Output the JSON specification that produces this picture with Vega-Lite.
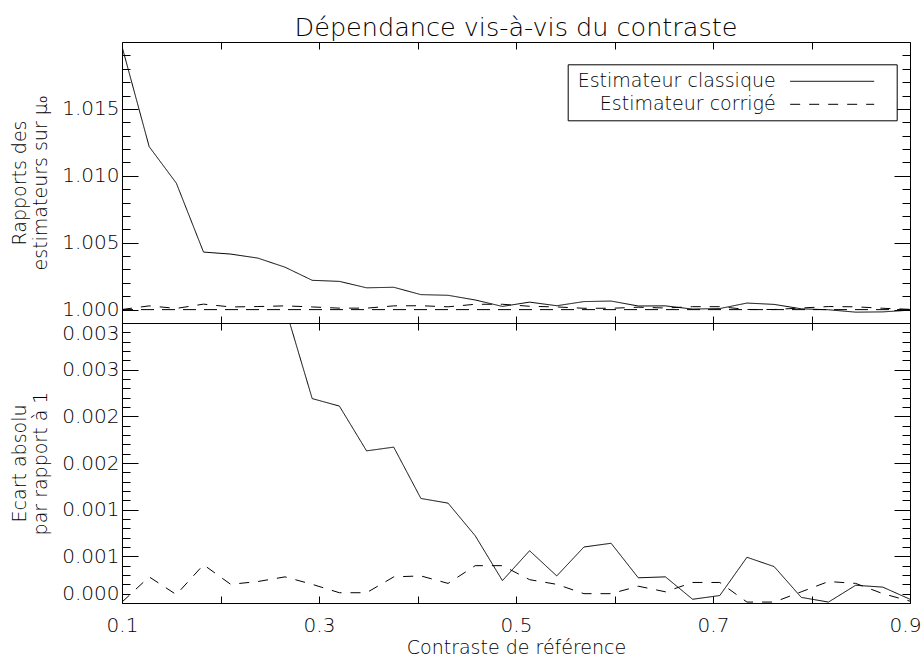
{
  "$schema": "https://vega.github.io/schema/vega-lite/v6.json",
  "autosize": {"type": "pad"},
  "padding": {"left": 10, "top": 15, "right": 0, "bottom": 0},
  "background": "white",
  "spacing": 0,
  "bounds": "flush",
  "config": {
    "font": "DejaVu Sans",
    "view": {"stroke": "black", "strokeWidth": 1},
    "axis": {
      "domain": false,
      "grid": false,
      "labelFlush": false,
      "tickColor": "black",
      "tickWidth": 1,
      "labelColor": "black",
      "labelFont": "DejaVu Sans",
      "labelFontWeight": 200,
      "labelFontSize": 20,
      "titleColor": "black",
      "titleFont": "DejaVu Sans",
      "titleFontWeight": 200,
      "titleFontSize": 19
    },
    "legend": {
      "labelFont": "DejaVu Sans",
      "labelFontWeight": 200,
      "labelFontSize": 19,
      "labelColor": "black",
      "labelLimit": 0
    }
  },
  "datasets": {
    "d": [
      {"x": 0.1, "serie": "Estimateur classique", "ratio": 1.01967, "ecart": 0.01967},
      {"x": 0.12759, "serie": "Estimateur classique", "ratio": 1.01218, "ecart": 0.01218},
      {"x": 0.15517, "serie": "Estimateur classique", "ratio": 1.00945, "ecart": 0.00945},
      {"x": 0.18276, "serie": "Estimateur classique", "ratio": 1.0043, "ecart": 0.0043},
      {"x": 0.21034, "serie": "Estimateur classique", "ratio": 1.00415, "ecart": 0.00415},
      {"x": 0.23793, "serie": "Estimateur classique", "ratio": 1.00385, "ecart": 0.00385},
      {"x": 0.26552, "serie": "Estimateur classique", "ratio": 1.00317, "ecart": 0.00317},
      {"x": 0.2931, "serie": "Estimateur classique", "ratio": 1.00219, "ecart": 0.00219},
      {"x": 0.32069, "serie": "Estimateur classique", "ratio": 1.00211, "ecart": 0.00211},
      {"x": 0.34828, "serie": "Estimateur classique", "ratio": 1.00163, "ecart": 0.00163},
      {"x": 0.37586, "serie": "Estimateur classique", "ratio": 1.00167, "ecart": 0.00167},
      {"x": 0.40345, "serie": "Estimateur classique", "ratio": 1.00112, "ecart": 0.00112},
      {"x": 0.43103, "serie": "Estimateur classique", "ratio": 1.00107, "ecart": 0.00107},
      {"x": 0.45862, "serie": "Estimateur classique", "ratio": 1.00072, "ecart": 0.00072},
      {"x": 0.48621, "serie": "Estimateur classique", "ratio": 1.00024, "ecart": 0.00024},
      {"x": 0.51379, "serie": "Estimateur classique", "ratio": 1.00056, "ecart": 0.00056},
      {"x": 0.54138, "serie": "Estimateur classique", "ratio": 1.00029, "ecart": 0.00029},
      {"x": 0.56897, "serie": "Estimateur classique", "ratio": 1.0006, "ecart": 0.0006},
      {"x": 0.59655, "serie": "Estimateur classique", "ratio": 1.00064, "ecart": 0.00064},
      {"x": 0.62414, "serie": "Estimateur classique", "ratio": 1.00027, "ecart": 0.00027},
      {"x": 0.65172, "serie": "Estimateur classique", "ratio": 1.00028, "ecart": 0.00028},
      {"x": 0.67931, "serie": "Estimateur classique", "ratio": 1.00004, "ecart": 0.00004},
      {"x": 0.7069, "serie": "Estimateur classique", "ratio": 1.00008, "ecart": 0.00008},
      {"x": 0.73448, "serie": "Estimateur classique", "ratio": 1.00049, "ecart": 0.00049},
      {"x": 0.76207, "serie": "Estimateur classique", "ratio": 1.00039, "ecart": 0.00039},
      {"x": 0.78966, "serie": "Estimateur classique", "ratio": 1.00006, "ecart": 0.00006},
      {"x": 0.81724, "serie": "Estimateur classique", "ratio": 0.99999, "ecart": 0.00001},
      {"x": 0.84483, "serie": "Estimateur classique", "ratio": 0.99981, "ecart": 0.00019},
      {"x": 0.87241, "serie": "Estimateur classique", "ratio": 0.99983, "ecart": 0.00017},
      {"x": 0.9, "serie": "Estimateur classique", "ratio": 0.99996, "ecart": 0.00004},
      {"x": 0.1, "serie": "Estimateur corrigé", "ratio": 1.00001, "ecart": 0.00001},
      {"x": 0.12759, "serie": "Estimateur corrigé", "ratio": 1.00028, "ecart": 0.00028},
      {"x": 0.15517, "serie": "Estimateur corrigé", "ratio": 1.00009, "ecart": 0.00009},
      {"x": 0.18276, "serie": "Estimateur corrigé", "ratio": 1.00041, "ecart": 0.00041},
      {"x": 0.21034, "serie": "Estimateur corrigé", "ratio": 1.0002, "ecart": 0.0002},
      {"x": 0.23793, "serie": "Estimateur corrigé", "ratio": 1.00023, "ecart": 0.00023},
      {"x": 0.26552, "serie": "Estimateur corrigé", "ratio": 1.00028, "ecart": 0.00028},
      {"x": 0.2931, "serie": "Estimateur corrigé", "ratio": 1.0002, "ecart": 0.0002},
      {"x": 0.32069, "serie": "Estimateur corrigé", "ratio": 1.00011, "ecart": 0.00011},
      {"x": 0.34828, "serie": "Estimateur corrigé", "ratio": 1.00011, "ecart": 0.00011},
      {"x": 0.37586, "serie": "Estimateur corrigé", "ratio": 1.00028, "ecart": 0.00028},
      {"x": 0.40345, "serie": "Estimateur corrigé", "ratio": 1.00029, "ecart": 0.00029},
      {"x": 0.43103, "serie": "Estimateur corrigé", "ratio": 1.00021, "ecart": 0.00021},
      {"x": 0.45862, "serie": "Estimateur corrigé", "ratio": 1.0004, "ecart": 0.0004},
      {"x": 0.48621, "serie": "Estimateur corrigé", "ratio": 1.0004, "ecart": 0.0004},
      {"x": 0.51379, "serie": "Estimateur corrigé", "ratio": 1.00025, "ecart": 0.00025},
      {"x": 0.54138, "serie": "Estimateur corrigé", "ratio": 1.0002, "ecart": 0.0002},
      {"x": 0.56897, "serie": "Estimateur corrigé", "ratio": 1.0001, "ecart": 0.0001},
      {"x": 0.59655, "serie": "Estimateur corrigé", "ratio": 1.0001, "ecart": 0.0001},
      {"x": 0.62414, "serie": "Estimateur corrigé", "ratio": 1.00018, "ecart": 0.00018},
      {"x": 0.65172, "serie": "Estimateur corrigé", "ratio": 1.00012, "ecart": 0.00012},
      {"x": 0.67931, "serie": "Estimateur corrigé", "ratio": 1.00022, "ecart": 0.00022},
      {"x": 0.7069, "serie": "Estimateur corrigé", "ratio": 1.00022, "ecart": 0.00022},
      {"x": 0.73448, "serie": "Estimateur corrigé", "ratio": 1.00001, "ecart": 0.00001},
      {"x": 0.76207, "serie": "Estimateur corrigé", "ratio": 1.00001, "ecart": 0.00001},
      {"x": 0.78966, "serie": "Estimateur corrigé", "ratio": 1.00012, "ecart": 0.00012},
      {"x": 0.81724, "serie": "Estimateur corrigé", "ratio": 1.00023, "ecart": 0.00023},
      {"x": 0.84483, "serie": "Estimateur corrigé", "ratio": 1.00021, "ecart": 0.00021},
      {"x": 0.87241, "serie": "Estimateur corrigé", "ratio": 1.0001, "ecart": 0.0001},
      {"x": 0.9, "serie": "Estimateur corrigé", "ratio": 1.00002, "ecart": 0.00002}
    ],
    "one": [{"k": 1}]
  },
  "vconcat": [
    {
      "width": 788,
      "height": 281,
      "title": {
        "text": "Dépendance vis-à-vis du contraste",
        "frame": "group",
        "anchor": "middle",
        "font": "DejaVu Sans",
        "fontWeight": 200,
        "fontSize": 25.5,
        "color": "black",
        "offset": 0
      },
      "layer": [
        {
          "data": {"name": "d"},
          "mark": {"type": "line", "color": "black", "strokeWidth": 1, "clip": true},
          "encoding": {
            "x": {
              "field": "x", "type": "quantitative",
              "scale": {"domain": [0.1, 0.9], "nice": false, "zero": false},
              "axis": {"orient": "bottom", "values": [0.1, 0.2, 0.3, 0.4, 0.5, 0.6, 0.7, 0.8, 0.9], "labels": false, "tickSize": -7, "title": null}
            },
            "y": {
              "field": "ratio", "type": "quantitative",
              "scale": {"domain": [0.999, 1.02], "nice": false, "zero": false},
              "axis": {"orient": "left", "values": [1.0, 1.005, 1.01, 1.015], "format": ".3f", "ticks": false, "labelPadding": 3, "title": ["Rapports des", "estimateurs sur μ₀"], "titlePadding": 11}
            },
            "strokeDash": {
              "field": "serie", "type": "nominal",
              "scale": {"domain": ["Estimateur classique", "Estimateur corrigé"], "range": [[1, 0], [10, 9]]},
              "legend": {
                "title": null,
                "orient": "none",
                "legendX": 445.7,
                "legendY": 22.3,
                "strokeColor": "black",
                "fillColor": "white",
                "padding": 6,
                "symbolType": "M19.57,0H27.57M28.9,0",
                "symbolSize": 441,
                "symbolStrokeWidth": 1,
                "symbolStrokeColor": "black",
                "symbolFillColor": "transparent",
                "labelAlign": "right",
                "labelOffset": 180,
                "rowPadding": 2
              }
            }
          }
        },
        {
          "data": {"name": "one"},
          "mark": {"type": "rule", "color": "black", "strokeWidth": 1, "strokeDash": [13, 8]},
          "encoding": {
            "y": {
              "datum": 1, "type": "quantitative",
              "axis": {"orient": "left", "values": [1.0, 1.005, 1.01, 1.015], "labels": false, "tickSize": -16, "title": null}
            }
          }
        },
        {
          "data": {"name": "one"},
          "mark": {"type": "rule", "strokeOpacity": 0},
          "encoding": {
            "x": {
              "datum": 0.5, "type": "quantitative",
              "axis": {"orient": "top", "values": [0.1, 0.2, 0.3, 0.4, 0.5, 0.6, 0.7, 0.8, 0.9], "labels": false, "tickSize": -7, "title": null}
            },
            "y": {
              "datum": 1, "type": "quantitative",
              "axis": {"orient": "left", "values": [1.001, 1.002, 1.003, 1.004, 1.006, 1.007, 1.008, 1.009, 1.011, 1.012, 1.013, 1.014, 1.016, 1.017, 1.018, 1.019], "labels": false, "tickSize": -8, "title": null}
            }
          }
        },
        {
          "data": {"name": "one"},
          "mark": {"type": "rule", "strokeOpacity": 0},
          "encoding": {
            "y": {
              "datum": 1, "type": "quantitative",
              "axis": {"orient": "right", "values": [1.0, 1.005, 1.01, 1.015], "labels": false, "tickSize": -16, "title": null}
            }
          }
        },
        {
          "data": {"name": "one"},
          "mark": {"type": "rule", "strokeOpacity": 0},
          "encoding": {
            "y": {
              "datum": 1, "type": "quantitative",
              "axis": {"orient": "right", "values": [1.001, 1.002, 1.003, 1.004, 1.006, 1.007, 1.008, 1.009, 1.011, 1.012, 1.013, 1.014, 1.016, 1.017, 1.018, 1.019], "labels": false, "tickSize": -8, "title": null}
            }
          }
        }
      ],
      "resolve": {"axis": {"x": "independent", "y": "independent"}}
    },
    {
      "width": 788,
      "height": 280,
      "layer": [
        {
          "data": {"name": "d"},
          "mark": {"type": "line", "color": "black", "strokeWidth": 1, "clip": true},
          "encoding": {
            "x": {
              "field": "x", "type": "quantitative",
              "scale": {"domain": [0.1, 0.9], "nice": false, "zero": false},
              "axis": {"orient": "bottom", "values": [0.1, 0.3, 0.5, 0.7, 0.9], "format": ".1f", "ticks": false, "labelPadding": 12, "labelOffset": {"condition": {"test": "datum.value >= 0.85", "value": -5}, "value": 0}, "title": "Contraste de référence", "titlePadding": 3}
            },
            "y": {
              "field": "ecart", "type": "quantitative",
              "scale": {"domain": [0, 0.003], "nice": false, "zero": false},
              "axis": {"orient": "left", "values": [0, 0.0005, 0.001, 0.0015, 0.002, 0.0025, 0.003], "format": ".3f", "labelFlush": true, "ticks": false, "labelPadding": 3, "title": ["Ecart absolu", "par rapport à 1"], "titlePadding": 11}
            },
            "strokeDash": {
              "field": "serie", "type": "nominal",
              "scale": {"domain": ["Estimateur classique", "Estimateur corrigé"], "range": [[1, 0], [10, 9]]},
              "legend": null
            }
          }
        },
        {
          "data": {"name": "one"},
          "mark": {"type": "rule", "strokeOpacity": 0},
          "encoding": {
            "x": {
              "datum": 0.5, "type": "quantitative",
              "axis": {"orient": "bottom", "values": [0.1, 0.2, 0.3, 0.4, 0.5, 0.6, 0.7, 0.8, 0.9], "labels": false, "tickSize": -7, "title": null}
            },
            "y": {
              "datum": 0.001, "type": "quantitative",
              "axis": {"orient": "left", "values": [0, 0.0005, 0.001, 0.0015, 0.002, 0.0025, 0.003], "labels": false, "tickSize": -16, "title": null}
            }
          }
        },
        {
          "data": {"name": "one"},
          "mark": {"type": "rule", "strokeOpacity": 0},
          "encoding": {
            "x": {
              "datum": 0.5, "type": "quantitative",
              "axis": {"orient": "top", "values": [0.1, 0.2, 0.3, 0.4, 0.5, 0.6, 0.7, 0.8, 0.9], "labels": false, "tickSize": -7, "title": null}
            },
            "y": {
              "datum": 0.001, "type": "quantitative",
              "axis": {"orient": "left", "values": [0.0001, 0.0002, 0.0003, 0.0004, 0.0006, 0.0007, 0.0008, 0.0009, 0.0011, 0.0012, 0.0013, 0.0014, 0.0016, 0.0017, 0.0018, 0.0019, 0.0021, 0.0022, 0.0023, 0.0024, 0.0026, 0.0027, 0.0028, 0.0029], "labels": false, "tickSize": -8, "title": null}
            }
          }
        },
        {
          "data": {"name": "one"},
          "mark": {"type": "rule", "strokeOpacity": 0},
          "encoding": {
            "y": {
              "datum": 0.001, "type": "quantitative",
              "axis": {"orient": "right", "values": [0, 0.0005, 0.001, 0.0015, 0.002, 0.0025, 0.003], "labels": false, "tickSize": -16, "title": null}
            }
          }
        },
        {
          "data": {"name": "one"},
          "mark": {"type": "rule", "strokeOpacity": 0},
          "encoding": {
            "y": {
              "datum": 0.001, "type": "quantitative",
              "axis": {"orient": "right", "values": [0.0001, 0.0002, 0.0003, 0.0004, 0.0006, 0.0007, 0.0008, 0.0009, 0.0011, 0.0012, 0.0013, 0.0014, 0.0016, 0.0017, 0.0018, 0.0019, 0.0021, 0.0022, 0.0023, 0.0024, 0.0026, 0.0027, 0.0028, 0.0029], "labels": false, "tickSize": -8, "title": null}
            }
          }
        }
      ],
      "resolve": {"axis": {"x": "independent", "y": "independent"}}
    }
  ]
}
